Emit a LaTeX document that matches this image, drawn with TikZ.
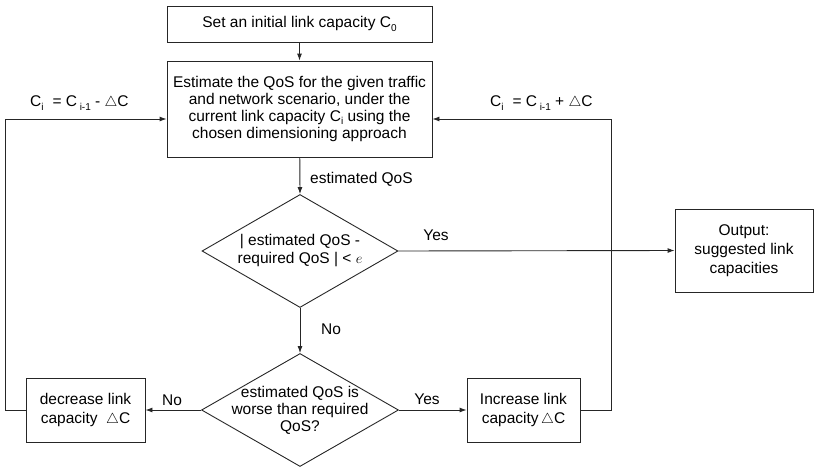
\documentclass[tikz,border=0pt]{standalone}
\usepackage{fontspec}
\setmainfont{Liberation Sans}
\usetikzlibrary{shapes.geometric,arrows.meta}
\newcommand\sbs[1]{\raisebox{-0.4ex}{\fontsize{10}{10}\selectfont #1}}
\newcommand\dC{$\triangle$C}
\begin{document}
\begin{tikzpicture}[x=1pt,y=-1pt,
  every node/.style={font=\fontsize{15.5}{17}\selectfont, text=black},
  box/.style={draw=black!85, line width=0.9pt, rectangle, inner sep=0pt, align=center},
  dia/.style={draw=black!85, line width=0.9pt, diamond, inner sep=0pt},
  txt/.style={align=center, inner sep=0pt},
  conn/.style={draw=black!85, line width=0.9pt},
  arr/.style={conn, -{Latex[length=7pt,width=5pt]}},
  lbl/.style={inner sep=0pt}]
\useasboundingbox (0,0) rectangle (814,469);
\node[box, minimum width=265pt, minimum height=36pt] (top) at (299.5,24) {Set an initial link capacity C\sbs{0}};
\node[box, minimum width=265pt, minimum height=96pt, font=\fontsize{15.5}{17.3}\selectfont] (est) at (299.5,109)
  {Estimate the QoS for the given traffic\\and network scenario, under the\\current link capacity C\sbs{i} using the\\chosen dimensioning approach};
\node[dia, minimum width=196pt, minimum height=113pt] (d1) at (300,251) {};
\node[txt, font=\fontsize{15.5}{18}\selectfont] (d1t) at (d1.center) {| estimated QoS -\\required QoS | < $e$};
\node[box, minimum width=138pt, minimum height=83pt, font=\fontsize{15.5}{19}\selectfont] (out) at (744,250.5) {Output:\\suggested link\\capacities};
\node[dia, minimum width=197pt, minimum height=113pt] (d2) at (300,410) {};
\node[txt, font=\fontsize{15.5}{17}\selectfont] (d2t) at (d2.center) {estimated QoS is\\worse than required\\QoS?};
\node[box, minimum width=119pt, minimum height=64pt, font=\fontsize{15.5}{19}\selectfont] (dec) at (85.5,410) {decrease link\\capacity \ \dC};
\node[box, minimum width=113pt, minimum height=64pt, font=\fontsize{15.5}{19}\selectfont] (inc) at (523.5,410) {Increase link\\capacity\,\dC};
\coordinate (lc) at (5,119);
\coordinate (rc) at (611,119);
\draw[arr] (top) -- (est);
\draw[arr] (est) -- (d1.north);
\draw[arr] (d1.east) -- (out.west);
\draw[arr] (d1.south) -- (d2.north);
\draw[arr] (d2.west) -- (dec.east);
\draw[arr] (d2.east) -- (inc.west);
\draw[arr] (dec.west) -| (lc) -- (est.west |- lc);
\draw[arr] (inc.east) -| (rc) -- (est.east |- rc);
\node[lbl, anchor=west] (l1) at (310,179) {estimated QoS};
\node[lbl] (l2) at (436,235) {Yes};
\node[lbl] (l3) at (331,329) {No};
\node[lbl] (l4) at (172,400) {No};
\node[lbl] (l5) at (427,399) {Yes};
\node[lbl, anchor=west] (l6) at (30,103) {C\sbs{i}\hspace{9pt}= C\,\sbs{i-1} - \dC};
\node[lbl, anchor=west] (l7) at (490,103) {C\sbs{i}\hspace{9pt}= C\,\sbs{i-1} + \dC};
\end{tikzpicture}
\end{document}
